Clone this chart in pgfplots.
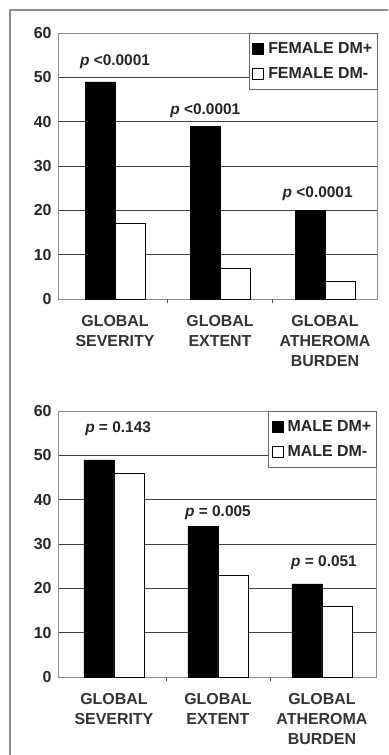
\documentclass[border=0pt]{standalone}
\usepackage{fontspec}
\setmainfont{Liberation Sans}
\usepackage{pgfplots}
\pgfplotsset{compat=1.18}
\pgfplotsset{
  mystyle/.style={
    scale only axis, height=266bp,
    ybar=0pt, bar width=30bp,
    ymin=0, ymax=60, ytick={0,10,...,60},
    xtick={0,1,2}, tick pos=left,
    xticklabels={GLOBAL\\SEVERITY, GLOBAL\\EXTENT, GLOBAL\\ATHEROMA\\BURDEN},
    xticklabel style={align=center, font=\fontsize{16}{20}\selectfont\bfseries, text=black!80, yshift=-13bp},
    yticklabel style={font=\fontsize{16}{18}\selectfont\bfseries, text=black!85, xshift=-3bp},
    /pgf/number format/assume math mode=true,
    major tick length=0pt,
    extra x ticks={0.5,1.5}, extra x tick labels={},
    extra x tick style={major tick length=4bp, tick style={black!70}, grid=none},
    ymajorgrids, grid style={black!75, line width=0.9bp},
    axis line style={black!45, line width=0.8bp},
    clip=false,
    legend style={at={(1,1)}, anchor=north east, draw=black!60, fill=white,
      font=\fontsize{16}{18}\selectfont\bfseries, text=black!85,
      inner xsep=3bp, inner ysep=7bp, row sep=9bp, legend cell align=left,
      nodes={inner xsep=1.5bp}},
    legend image code/.code={\draw[##1, line width=0.8bp] (2bp,-6bp) rectangle (13bp,5bp);},
  },
}
\tikzset{ann/.style={font=\fontsize{15.5}{17}\selectfont\bfseries, text=black!85}}
\begin{document}
\begin{tikzpicture}[x=1bp,y=1bp]
\path[use as bounding box] (0,0) rectangle (388,-755);
\draw[black!45, line width=1.3bp] (10,-755) -- (10,-10) -- (388,-10);
\begin{axis}[mystyle, at={(58bp,-33bp)}, anchor=north west, width=319bp,
  xmin=-0.543, xmax=2.495]
\addplot[fill=black, draw=black] coordinates {(0,49) (1,39) (2,20)};
\addplot[fill=white, draw=black] coordinates {(0,17) (1,7) (2,4)};
\legend{\,FEMALE DM+, \,FEMALE DM-}
\node[ann] at (axis cs:0,53.5) {\textit{p} <0.0001};
\node[ann] at (axis cs:0.86,42.5) {\textit{p} <0.0001};
\node[ann] at (axis cs:1.93,23.8) {\textit{p} <0.0001};
\end{axis}
\begin{axis}[mystyle, at={(58bp,-411bp)}, anchor=north west, width=318bp,
  xmin=-0.538, xmax=2.52]
\addplot[fill=black, draw=black] coordinates {(0,49) (1,34) (2,21)};
\addplot[fill=white, draw=black] coordinates {(0,46) (1,23) (2,16)};
\legend{\,MALE DM+, \,MALE DM-}
\node[ann] at (axis cs:0.04,56) {\textit{p} = 0.143};
\node[ann] at (axis cs:1,37) {\textit{p} = 0.005};
\node[ann] at (axis cs:2.02,25.7) {\textit{p} = 0.051};
\end{axis}
\end{tikzpicture}
\end{document}
